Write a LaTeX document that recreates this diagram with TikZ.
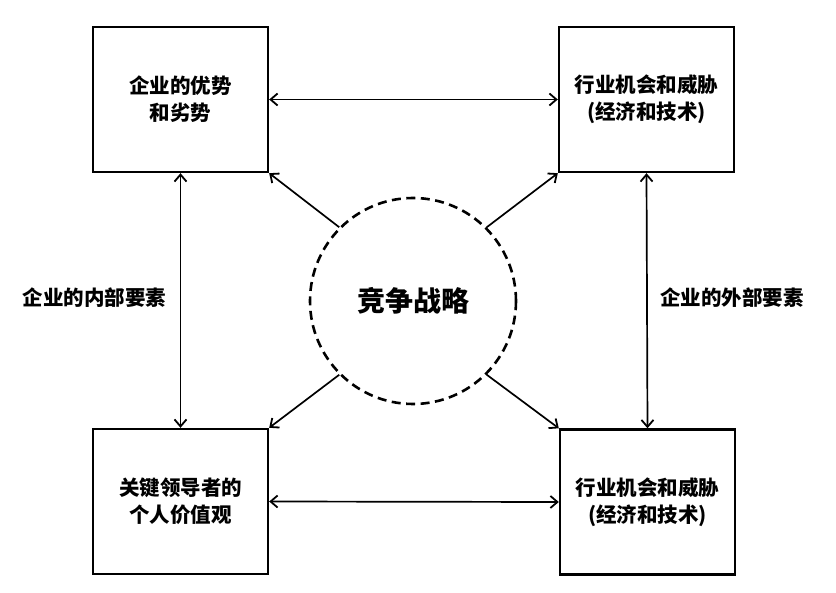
\documentclass[tikz,border=0pt]{standalone}
\usepackage{fontspec}
\setmainfont{Noto Sans CJK SC}
\usetikzlibrary{arrows.meta}
\begin{document}
\begin{tikzpicture}[x=1pt,y=-1pt,
  box/.style={draw, line width=2.4pt, minimum width=175pt, minimum height=145pt, inner sep=0pt, align=center, font=\bfseries\fontsize{20.5}{27}\selectfont},
  circ/.style={draw, circle, dashed, dash pattern=on 9pt off 5.5pt, line width=2.6pt, minimum size=206pt, inner sep=0pt, font=\bfseries\fontsize{28}{32}\selectfont},
  lbl/.style={font=\bfseries\fontsize{20.5}{24}\selectfont, inner sep=0pt},
  tip/.tip={Straight Barb[length=7pt,width=12pt,line width=1.8pt]},
  arr/.style={line width=1.7pt, -tip},
  arrb/.style={line width=1.7pt, tip-tip}
]
\useasboundingbox (0,0) rectangle (836,593);
\node[box] (tl) at (180.5,99.5) {企业的优势\\和劣势};
\node[box] (tr) at (646.5,99.5) {行业机会和威胁\\(经济和技术)};
\node[box] (bl) at (180.5,501.5) {关键领导者的\\个人价值观};
\node[box] (br) at (647.5,502) {行业机会和威胁\\(经济和技术)};
\node[circ] (c) at (413,301) {竞争战略};
\node[lbl] (li) at (94.5,298) {企业的内部要素};
\node[lbl] (le) at (732,298) {企业的外部要素};
\draw[arrb] (tl.east) -- (tr.west);
\draw[arrb] (bl.east) -- (br.west);
\draw[arrb] (tl.south) -- (bl.north);
\draw[arrb] (tr.south) -- (br.north);
\draw[arr] (c.135) -- (tl.south east);
\draw[arr] (c.45) -- (tr.south west);
\draw[arr] (c.225) -- (bl.north east);
\draw[arr] (c.-45) -- (br.north west);
\end{tikzpicture}
\end{document}
